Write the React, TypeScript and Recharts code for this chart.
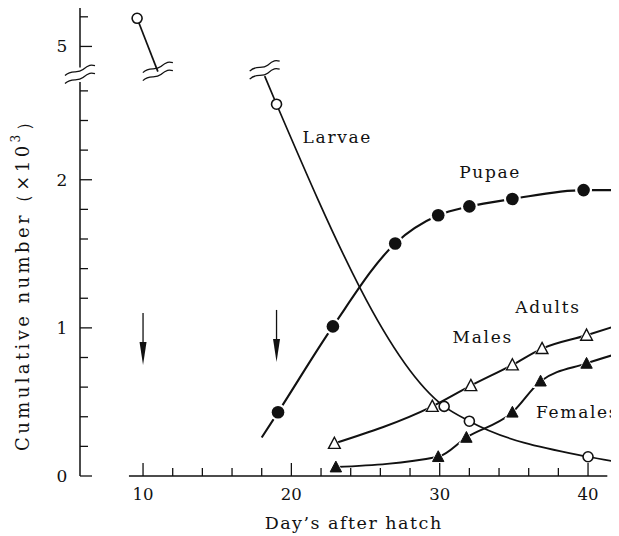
import React from "react";
import {
  ComposedChart,
  Line,
  Scatter,
  XAxis,
  YAxis,
  ReferenceLine,
  ReferenceDot,
} from "recharts";

// counts are in thousands; days after hatch
const larvaeDays = [9.6, 19.0, 30.3, 32.0, 40.0];
const larvaeCounts = [5.19, 2.51, 0.47, 0.37, 0.13];
const larvaeCutAt = [11.0, 4.83]; // line runs into the break here
const larvaeResumeAt = [18.2, 2.7]; // and comes out of it here
const larvaeEnd = [41.7, 0.1];

const pupaeDays = [19.1, 22.8, 27.0, 29.9, 32.0, 34.9, 39.7];
const pupaeCounts = [0.43, 1.01, 1.57, 1.76, 1.82, 1.87, 1.93];
const pupaeStart = [18.0, 0.26];
const pupaeEnd = [41.7, 1.93];

const maleDays = [22.9, 29.5, 32.1, 34.9, 36.9, 39.9];
const maleCounts = [0.22, 0.47, 0.61, 0.75, 0.86, 0.95];
const maleEnd = [41.8, 1.01];

const femaleDays = [23.0, 29.9, 31.8, 34.9, 36.8, 39.9];
const femaleCounts = [0.06, 0.13, 0.26, 0.43, 0.64, 0.76];
const femaleEnd = [41.8, 0.82];

const arrowDays = [10, 19];
const arrowTips = [0.75, 0.77];

const xTicks = [10, 12, 14, 16, 18, 20, 22, 24, 26, 28, 30, 32, 34, 36, 38, 40];
const xLabelled = [10, 20, 30, 40];
const yTicks = [0, 0.2, 0.4, 0.6, 0.8, 1, 1.2, 1.4, 1.6, 1.8, 2, 2.2, 2.4, 2.6, 5, 5.2];
const yLabelled = [0, 1, 2, 5];

// the y axis is broken: everything above 4 is pulled down by this much
const BREAK_SHIFT = 2.1;
const tv = (v: number) => (v > 4 ? v - BREAK_SHIFT : v);
const untv = (v: number) => (v > 2.8 ? v + BREAK_SHIFT : v);

const X_MIN = 5.75; // day where the y axis stands
const FONT = '"DejaVu Serif", serif';
const INK = "#111";

const pts = (days: number[], vals: number[]) =>
  days.map((d, i) => ({ day: d, v: tv(vals[i]) }));
const pt = (p: number[]) => ({ day: p[0], v: tv(p[1]) });

const larvaeEarlyLine = [pt([larvaeDays[0], larvaeCounts[0]]), pt(larvaeCutAt)];
const larvaeLateLine = [
  pt(larvaeResumeAt),
  ...pts(larvaeDays.slice(1), larvaeCounts.slice(1)),
  pt(larvaeEnd),
];
const pupaeLine = [pt(pupaeStart), ...pts(pupaeDays, pupaeCounts), pt(pupaeEnd)];
const maleLine = [...pts(maleDays, maleCounts), pt(maleEnd)];
const femaleLine = [...pts(femaleDays, femaleCounts), pt(femaleEnd)];

const OpenCircle = ({ cx, cy }: any) => (
  <circle cx={cx} cy={cy} r={5} fill="#fff" stroke={INK} strokeWidth={1.6} />
);
const FilledCircle = ({ cx, cy }: any) => (
  <g>
    <circle cx={cx} cy={cy} r={8.5} fill="#fff" />
    <circle cx={cx} cy={cy} r={6.3} fill={INK} />
  </g>
);
const triPath = (cx: number, cy: number, s: number) =>
  `M${cx},${cy - s} L${cx + s * 0.95},${cy + s * 0.8} L${cx - s * 0.95},${cy + s * 0.8} Z`;
const OpenTriangle = ({ cx, cy }: any) => (
  <g>
    <path d={triPath(cx, cy, 8.5)} fill="#fff" />
    <path d={triPath(cx, cy, 6.2)} fill="#fff" stroke={INK} strokeWidth={1.4} />
  </g>
);
const FilledTriangle = ({ cx, cy }: any) => (
  <g>
    <path d={triPath(cx, cy, 8.5)} fill="#fff" />
    <path d={triPath(cx, cy, 6)} fill={INK} stroke={INK} strokeWidth={1} />
  </g>
);

const BreakMark = ({ cx, cy }: any) => (
  <g fill="none" stroke={INK} strokeWidth={1.3}>
    {[-4, 4].map((o) => (
      <path
        key={o}
        d={`M${cx - 15},${cy + o + 5} C${cx - 8},${cy + o - 2} ${cx - 3},${cy + o + 4} ${cx + 3},${cy + o - 1} S${cx + 11},${cy + o - 6} ${cx + 15},${cy + o - 5}`}
      />
    ))}
  </g>
);

const Arrow = ({ cx, cy }: any) => (
  <g>
    <line x1={cx} x2={cx} y1={cy - 52} y2={cy - 18} stroke={INK} strokeWidth={1.3} />
    <path d={`M${cx - 3.5},${cy - 23} L${cx},${cy} L${cx + 3.5},${cy - 23} Z`} fill={INK} />
  </g>
);

const textStyle = (size: number, spacing = 0) => ({
  fontFamily: FONT,
  fontSize: size,
  letterSpacing: spacing,
  fill: INK,
});

const seriesLabel = (text: string) => ({ cx, cy }: any) => (
  <text x={cx} y={cy} textAnchor="middle" dominantBaseline="central" style={textStyle(17, 1.7)}>
    {text}
  </text>
);

const XTitle = ({ cx, cy }: any) => (
  <text x={cx} y={cy} textAnchor="middle" dominantBaseline="central" style={textStyle(17.5, 1.5)}>
    Day’s after hatch
  </text>
);

const YTitle = ({ cx, cy }: any) => (
  <text
    x={cx}
    y={cy}
    transform={`rotate(-90 ${cx} ${cy})`}
    textAnchor="middle"
    dominantBaseline="central"
    style={textStyle(18, 3.4)}
  >
    Cumulative number（×10
    <tspan dy={-7} style={{ fontSize: 12 }}>
      3
    </tspan>
    <tspan dy={7}>）</tspan>
  </text>
);

const XTick = ({ x, y, payload }: any) => {
  const major = xLabelled.includes(payload.value);
  return (
    <g>
      <line x1={x} x2={x} y1={y} y2={y - (major ? 13 : 8)} stroke={INK} strokeWidth={1.3} />
      {major && (
        <text x={x} y={y + 18} textAnchor="middle" dominantBaseline="central" style={textStyle(16.5)}>
          {payload.value}
        </text>
      )}
    </g>
  );
};

const YTick = ({ x, y, payload }: any) => {
  const real = Math.round(untv(payload.value) * 10) / 10;
  const major = yLabelled.includes(real);
  return (
    <g>
      <line x1={x} x2={x + (major ? 12 : 8)} y1={y} y2={y} stroke={INK} strokeWidth={1.3} />
      {major && (
        <text x={x - 18} y={y} textAnchor="middle" dominantBaseline="central" style={textStyle(17)}>
          {real}
        </text>
      )}
    </g>
  );
};

export default function App() {
  return (
    <div
      style={{
        marginTop: -8,
        marginLeft: -8,
        width: 619,
        height: 536,
        background: "#fff",
        fontFamily: FONT,
      }}
    >
      <ComposedChart
        width={619}
        height={536}
        margin={{ top: 2, right: 1.3, left: 20, bottom: 30 }}
      >
        <XAxis
          dataKey="day"
          type="number"
          domain={[X_MIN, 42]}
          ticks={xTicks}
          interval={0}
          tick={<XTick />}
          tickSize={0}
          tickMargin={0}
          axisLine={false}
          height={30}
        />
        <YAxis
          type="number"
          domain={[0, 3.2]}
          ticks={yTicks.map(tv)}
          interval={0}
          tick={<YTick />}
          tickSize={0}
          tickMargin={0}
          axisLine={false}
          width={60}
        />

        {/* axis lines */}
        <ReferenceLine
          segment={[
            { x: 9.05, y: 0 },
            { x: 41.3, y: 0 },
          ]}
          stroke={INK}
          strokeWidth={1.5}
          ifOverflow="visible"
        />
        <ReferenceLine
          segment={[
            { x: X_MIN, y: 0 },
            { x: X_MIN, y: 2.66 },
          ]}
          stroke={INK}
          strokeWidth={1.5}
          ifOverflow="visible"
        />
        <ReferenceLine
          segment={[
            { x: X_MIN, y: 2.757 },
            { x: X_MIN, y: 3.16 },
          ]}
          stroke={INK}
          strokeWidth={1.5}
          ifOverflow="visible"
        />
        <ReferenceDot x={X_MIN} y={2.71} shape={<BreakMark />} ifOverflow="visible" />
        <ReferenceDot x={larvaeCutAt[0]} y={tv(larvaeCutAt[1])} shape={<BreakMark />} />
        <ReferenceDot x={larvaeResumeAt[0]} y={larvaeResumeAt[1] + 0.04} shape={<BreakMark />} />

        {arrowDays.map((d, i) => (
          <ReferenceDot key={d} x={d} y={arrowTips[i]} shape={<Arrow />} />
        ))}

        <Line data={larvaeEarlyLine} dataKey="v" type="linear" stroke={INK} strokeWidth={1.7} dot={false} isAnimationActive={false} />
        <Line data={larvaeLateLine} dataKey="v" type="monotone" stroke={INK} strokeWidth={1.7} dot={false} isAnimationActive={false} />
        <Line data={pupaeLine} dataKey="v" type="monotone" stroke={INK} strokeWidth={2.1} dot={false} isAnimationActive={false} />
        <Line data={maleLine} dataKey="v" type="monotone" stroke={INK} strokeWidth={2} dot={false} isAnimationActive={false} />
        <Line data={femaleLine} dataKey="v" type="monotone" stroke={INK} strokeWidth={2} dot={false} isAnimationActive={false} />

        <Scatter data={pts(larvaeDays, larvaeCounts)} dataKey="v" shape={<OpenCircle />} isAnimationActive={false} />
        <Scatter data={pts(pupaeDays, pupaeCounts)} dataKey="v" shape={<FilledCircle />} isAnimationActive={false} />
        <Scatter data={pts(maleDays, maleCounts)} dataKey="v" shape={<OpenTriangle />} isAnimationActive={false} />
        <Scatter data={pts(femaleDays, femaleCounts)} dataKey="v" shape={<FilledTriangle />} isAnimationActive={false} />

        <ReferenceDot x={23.1} y={2.29} shape={seriesLabel("Larvae")} />
        <ReferenceDot x={33.4} y={2.05} shape={seriesLabel("Pupae")} />
        <ReferenceDot x={37.3} y={1.14} shape={seriesLabel("Adults")} />
        <ReferenceDot x={32.9} y={0.94} shape={seriesLabel("Males")} />
        <ReferenceDot x={39.3} y={0.43} shape={seriesLabel("Females")} />

        {/* axis titles, placed through the same scales */}
        <ReferenceDot x={24.2} y={-0.318} shape={<XTitle />} ifOverflow="visible" />
        <ReferenceDot x={1.9} y={1.32} shape={<YTitle />} ifOverflow="visible" />
      </ComposedChart>
    </div>
  );
}
